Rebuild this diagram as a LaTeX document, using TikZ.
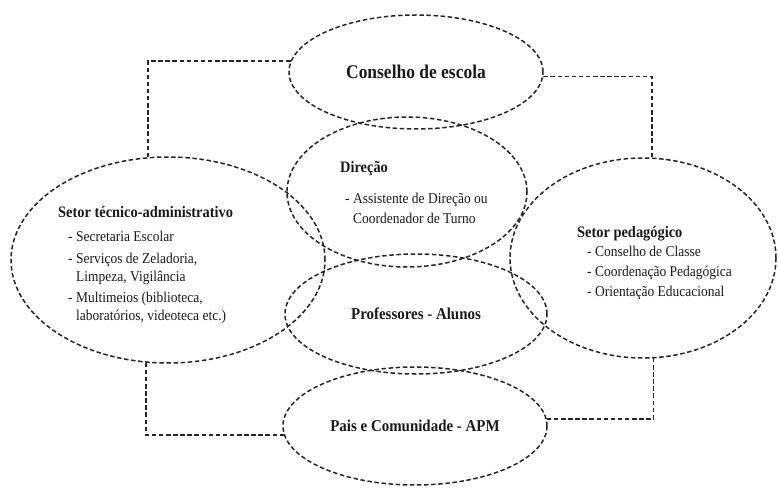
\documentclass[tikz,border=0pt]{standalone}
\usepackage{fontspec}
\setmainfont{Liberation Serif}[FakeStretch=0.9]
\usetikzlibrary{positioning,shapes.geometric,calc}
\definecolor{ink}     {HTML}{1A1A1A}
\definecolor{softink} {HTML}{262626}
\tikzset{
  every node/.style={text=ink},
  % --- nodes
  blob/.style  = {ellipse, draw=softink, line width=1.5pt, inner sep=0pt,
                  dash pattern=on 4.5pt off 2.6pt},
  big/.style   = {font=\fontsize{19.4}{22}\selectfont\bfseries},
  head/.style  = {font=\fontsize{16.6}{20}\selectfont\bfseries},
  ttl/.style   = {font=\fontsize{16}{19}\selectfont\bfseries, inner sep=0pt},
  body/.style  = {font=\fontsize{15}{18.5}\selectfont, align=left, inner sep=0pt},
  % --- edges
  link/.style  = {draw=softink, line width=1.5pt, dash pattern=on 4.5pt off 2.6pt},
}

\begin{document}
\begin{tikzpicture}[x=1pt,y=-1pt]
  \useasboundingbox (0,0) rectangle (779,489);
  % rings
  \node[blob, big, minimum width=254pt, minimum height=114pt] (cons) at (416,72) {Conselho de escola};
  \node[blob, minimum width=240pt, minimum height=150pt] (dir) at (407,192) {};
  \node[blob, minimum width=314pt, minimum height=206pt] (tec) at (168,260) {};
  \node[blob, minimum width=266pt, minimum height=200pt] (ped) at (643,258) {};
  \node[blob, head, minimum width=262pt, minimum height=120pt] (prof) at (416,314) {Professores - Alunos};
  \node[blob, head, minimum width=264pt, minimum height=118pt] (pais) at (415,426) {Pais e Comunidade - APM};
  % texts
  \node[ttl, anchor=base west] (dirt) at (340,173) {Direção};
  \node[body, below right=16pt and 5pt of dirt.south west] (dirl)
    {- Assistente de Direção ou\\[2pt]\hspace*{8pt}Coordenador de Turno};
  \node[ttl, anchor=base west] (tect) at (58,218) {Setor técnico-administrativo};
  \node[body, below right=13pt and 10pt of tect.south west] (tecl)
    {- Secretaria Escolar\\[3pt]
     - Serviços de Zeladoria,\\\hspace*{8pt}Limpeza, Vigilância\\[2pt]
     - Multimeios (biblioteca,\\\hspace*{8pt}laboratórios, videoteca etc.)};
  \node[ttl, anchor=base west] (pedt) at (577,237) {Setor pedagógico};
  \node[body, below right=5.5pt and 10pt of pedt.south west] (pedl)
    {- Conselho de Classe\\[1.5pt]- Coordenação Pedagógica\\[1.5pt]- Orientação Educacional};
  % links
  \draw[link] (cons.175) -| (tec.101);
  \draw[link] (cons.-2) -| (ped.85);
  \draw[link] (tec.258) |- (pais.184);
  \draw[link] (pais.3) -| (ped.276);
\end{tikzpicture}
\end{document}
